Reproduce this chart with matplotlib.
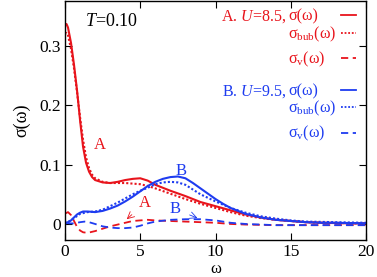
import numpy as np
import matplotlib
matplotlib.use("Agg")
import matplotlib.pyplot as plt

plt.rcParams['font.family'] = ['Liberation Serif', 'DejaVu Serif']
plt.rcParams['mathtext.fontset'] = 'custom'
plt.rcParams['mathtext.rm'] = 'Liberation Serif'
plt.rcParams['mathtext.it'] = 'Liberation Serif:italic'

# A: U=8.5
xa = [0, 0.1, 0.2, 0.4, 0.6, 0.8, 1.0, 1.2, 1.4, 1.6, 1.8, 2.0, 2.5, 3.0, 3.5, 4.0,
      4.5, 5.0, 5.5, 6.0, 7.0, 8.0, 9.0, 10, 11, 12, 13, 14, 15, 16, 17, 18, 19, 20]
sig_a = [0.335, 0.337, 0.331, 0.305, 0.268, 0.225, 0.175, 0.130, 0.103, 0.088, 0.079,
         0.074, 0.070, 0.069, 0.071, 0.074, 0.076, 0.077, 0.073, 0.066, 0.056, 0.047,
         0.037, 0.030, 0.023, 0.016, 0.011, 0.007, 0.005, 0.003, 0.002, 0.0015, 0.001, 0.001]
bub_a = [0.320, 0.322, 0.318, 0.295, 0.262, 0.222, 0.180, 0.142, 0.112, 0.094, 0.083,
         0.077, 0.071, 0.069, 0.069, 0.069, 0.068, 0.067, 0.064, 0.060, 0.051, 0.042,
         0.034, 0.027, 0.020, 0.014, 0.010, 0.007, 0.005, 0.003, 0.002, 0.002, 0.001, 0.001]
xva = [0.05, 0.2, 0.4, 0.6, 0.8, 1.0, 1.2, 1.5, 2, 2.5, 3, 3.5, 4, 4.5, 5, 5.5, 6, 7,
       8, 9, 10, 11, 12, 14, 16, 18, 20]
v_a = [0.018, 0.020, 0.015, 0.005, -0.005, -0.011, -0.014, -0.015, -0.012, -0.008,
       -0.004, -0.001, 0.002, 0.005, 0.006, 0.007, 0.006, 0.005, 0.004, 0.003, 0.002,
       0.0, -0.001, -0.002, -0.002, -0.002, -0.002]

# B: U=9.5
xb = [0, 0.2, 0.4, 0.6, 0.8, 1.0, 1.2, 1.5, 2.0, 2.5, 3.0, 3.5, 4.0, 4.5, 5.0, 5.5,
      6.0, 6.5, 7.0, 7.5, 8.0, 8.5, 9.0, 9.5, 10, 10.5, 11, 12, 13, 14, 15, 16, 17, 18, 20]
sig_b = [0.002, 0.003, 0.006, 0.011, 0.016, 0.019, 0.021, 0.021, 0.020, 0.022, 0.026,
         0.031, 0.038, 0.046, 0.055, 0.064, 0.071, 0.076, 0.079, 0.080, 0.077, 0.069,
         0.060, 0.051, 0.042, 0.034, 0.027, 0.017, 0.011, 0.007, 0.005, 0.003, 0.002,
         0.002, 0.001]
xbb = [0, 0.5, 1, 1.5, 2, 2.5, 3, 3.5, 4, 4.5, 5, 5.5, 6, 6.5, 7, 7.5, 8, 8.5, 9,
       9.5, 10, 11, 12, 13, 14, 15, 16, 18, 20]
bub_b = [0.0, 0.008, 0.017, 0.020, 0.021, 0.024, 0.030, 0.036, 0.043, 0.050, 0.056,
         0.061, 0.067, 0.070, 0.071, 0.070, 0.066, 0.058, 0.050, 0.044, 0.038, 0.027,
         0.019, 0.013, 0.009, 0.006, 0.004, 0.003, 0.002]
xvb = [0.1, 0.3, 0.6, 1.0, 1.3, 1.6, 2.0, 2.5, 3.0, 3.5, 4.0, 4.5, 5.0, 5.5, 6, 7, 8,
       9, 10, 11, 12, 13, 14, 15, 17, 20]
v_b = [0.002, 0.001, 0.001, 0.003, 0.004, 0.003, 0.0, -0.004, -0.006, -0.007, -0.007,
       -0.006, -0.003, 0.001, 0.004, 0.007, 0.008, 0.008, 0.006, 0.002, 0.0, -0.001,
       -0.002, -0.002, -0.002, -0.002]

red = '#e8141c'
blue = '#1e3cf0'
dot = (0, (1, 1))
dash = (0, (4, 2.5))

fig = plt.figure(figsize=(3.77, 2.77), dpi=100)
ax = fig.add_axes([0.1724, 0.1336, 0.7985, 0.8634])

ax.plot(xa, sig_a, color=red, lw=1.5)
ax.plot(xa, bub_a, color=red, lw=1.5, ls=dot)
ax.plot(xva, v_a, color=red, lw=1.3, ls=dash)
ax.plot(xb, sig_b, color=blue, lw=1.5)
ax.plot(xbb, bub_b, color=blue, lw=1.5, ls=dot)
ax.plot(xvb, v_b, color=blue, lw=1.3, ls=dash)

ax.set_xlim(0, 20)
ax.set_ylim(-0.027, 0.376)
ax.set_xticks([0, 5, 10, 15, 20])
ax.set_yticks([0, 0.1, 0.2, 0.3])
ax.set_yticklabels(['0', '0.1', '0.2', '0.3'])
ax.tick_params(direction='in', top=True, right=True, length=5, width=0.8,
               labelsize=12.5, pad=3)
for s in ax.spines.values():
    s.set_linewidth(1.0)

ax.set_xlabel('ω', fontsize=12, va='center')
ax.xaxis.set_label_coords(0.5, -0.12)
ax.set_ylabel('σ(ω)', fontsize=13, labelpad=6)

ax.text(0.066, 0.896, '$T$=0.10', transform=ax.transAxes, fontsize=13)

# curve labels
ax.text(2.3, 0.133, 'A', color=red, fontsize=12, ha='center', va='center')
ax.text(7.7, 0.090, 'B', color=blue, fontsize=12, ha='center', va='center')
ax.annotate('A', xy=(4.1, 0.008), xytext=(5.3, 0.035), color=red, fontsize=12,
            ha='center', va='center',
            arrowprops=dict(arrowstyle='->', color=red, lw=0.6, shrinkA=4, shrinkB=0))
ax.annotate('B', xy=(8.8, 0.010), xytext=(7.3, 0.025), color=blue, fontsize=12,
            ha='center', va='center',
            arrowprops=dict(arrowstyle='->', color=blue, lw=0.6, shrinkA=5, shrinkB=0))

# legend block
rows = [(0.917, red, 'A. $U$=8.5, ', 'σ(ω)', '-'),
        (0.845, red, '', 'σ$_{\\rm bub}$(ω)', dot),
        (0.738, red, '', 'σ$_{\\rm v}$(ω)', dash),
        (0.605, blue, 'B. $U$=9.5, ', 'σ(ω)', '-'),
        (0.532, blue, '', 'σ$_{\\rm bub}$(ω)', dot),
        (0.427, blue, '', 'σ$_{\\rm v}$(ω)', dash)]
for y, c, pre, lab, ls in rows:
    if pre:
        ax.text(0.738, y, pre, color=c, fontsize=11.5, ha='right', va='baseline',
                transform=ax.transAxes)
    ax.text(0.741, y, lab, color=c, fontsize=11.5, ha='left', va='baseline',
            transform=ax.transAxes)
    ax.plot([0.917, 0.967], [y + 0.022, y + 0.022], color=c, lw=1.3, ls=ls,
            transform=ax.transAxes)

fig.savefig('out.png', dpi=100)
